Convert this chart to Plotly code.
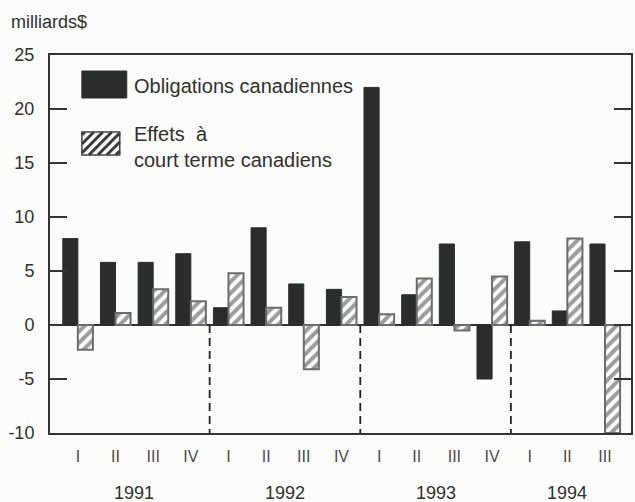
import plotly.graph_objects as go

# Quarterly net purchases by non-residents, billions of dollars
quarters = ["I", "II", "III", "IV", "I", "II", "III", "IV",
            "I", "II", "III", "IV", "I", "II", "III"]
years = ["1991", "1992", "1993", "1994"]
quarters_per_year = [4, 4, 4, 3]
obligations = [8.0, 5.8, 5.8, 6.6, 1.6, 9.0, 3.8, 3.3,
               22.0, 2.8, 7.5, -5.0, 7.7, 1.3, 7.5]
effets = [-2.3, 1.1, 3.3, 2.2, 4.8, 1.6, -4.1, 2.6,
          1.0, 4.3, -0.5, 4.5, 0.4, 8.0, -10.0]
y_ticks = [-10, -5, 0, 5, 10, 15, 20, 25]
y_ticktext = ["-10", "-5", "0", "5", "10", "15", "20", "25"]

FONT = "Liberation Sans, Arial, sans-serif"
INK = "#2f312f"
DARK = "#2a2d2a"
BG = "#fcfcfa"

W, H = 635, 502
ML, MR, MT, MB = 50, 2, 55, 69
PW, PH = W - ML - MR, H - MT - MB

x = list(range(len(quarters)))

fig = go.Figure()
fig.add_trace(go.Bar(
    x=x, y=obligations, name="Obligations canadiennes",
    marker=dict(color=DARK, line=dict(color=DARK, width=1)),
    showlegend=False,
))
fig.add_trace(go.Bar(
    x=x, y=effets, name="Effets à court terme canadiens",
    marker=dict(color="white",
                line=dict(color="#6c6c6c", width=2),
                pattern=dict(shape="/", fgcolor="#3a3a3a", bgcolor="white",
                             size=8, solidity=0.5)),
    showlegend=False,
))


def px_to_paper(px, py):
    return (px - ML) / PW, (H - MB - py) / PH


shapes = []

# dashed separators between years, from the zero line to the bottom
bounds = []
acc = 0
for n in quarters_per_year[:-1]:
    acc += n
    bounds.append(acc - 0.5)
for b in bounds:
    shapes.append(dict(type="line", xref="x", yref="y", x0=b, x1=b,
                       y0=0, y1=y_ticks[0],
                       line=dict(color="#222", width=1.8, dash="8px,5px")))

# legend swatches
def rect(px0, py0, px1, py1, **kw):
    fx0, fy0 = px_to_paper(px0, py1)
    fx1, fy1 = px_to_paper(px1, py0)
    return dict(type="rect", xref="paper", yref="paper",
                x0=fx0, x1=fx1, y0=fy0, y1=fy1, **kw)


shapes.append(rect(82, 71, 127, 98, fillcolor=DARK,
                   line=dict(color=DARK, width=1)))

hx0, hy0, hx1, hy1 = 82, 132, 120, 155
step = 9
k = hx0 - (hy1 - hy0) + 3
while k < hx1:
    # "/" stroke: from (k, hy1) to (k + h, hy0), clipped to the box
    h = hy1 - hy0
    ax, ay = k, hy1
    bx, by = k + h, hy0
    if ax < hx0:
        ay = hy1 - (hx0 - ax)
        ax = hx0
    if bx > hx1:
        by = hy0 + (bx - hx1)
        bx = hx1
    if bx > ax:
        f0 = px_to_paper(ax, ay)
        f1 = px_to_paper(bx, by)
        shapes.append(dict(type="line", xref="paper", yref="paper",
                           x0=f0[0], y0=f0[1], x1=f1[0], y1=f1[1],
                           line=dict(color="#3a3a3a", width=3)))
    k += step
shapes.append(rect(hx0, hy0, hx1, hy1, fillcolor="rgba(0,0,0,0)",
                   line=dict(color="#444", width=1.5)))

annotations = []
fx, fy = px_to_paper(9, 22)
annotations.append(dict(text="milliards$", xref="paper", yref="paper",
                        x=fx, y=fy, xanchor="left", yanchor="middle",
                        showarrow=False, font=dict(size=18, color=INK)))
fx, fy = px_to_paper(132, 86)
annotations.append(dict(text="Obligations canadiennes", xref="paper",
                        yref="paper", x=fx, y=fy, xanchor="left",
                        yanchor="middle", showarrow=False,
                        font=dict(size=20, color=INK)))
fx, fy = px_to_paper(132, 147)
annotations.append(dict(text="Effets  à<br>court terme canadiens",
                        xref="paper", yref="paper", x=fx, y=fy,
                        xanchor="left", yanchor="middle", align="left",
                        showarrow=False, font=dict(size=20, color=INK)))

# year labels centred under their quarters
start = 0
_, fy_year = px_to_paper(0, 493)
for yr, n in zip(years, quarters_per_year):
    centre = start + (n - 1) / 2
    annotations.append(dict(text=yr, xref="x", yref="paper", x=centre,
                            y=fy_year, yanchor="middle", showarrow=False,
                            font=dict(size=18, color=INK)))
    start += n

fig.update_layout(
    width=W, height=H,
    margin=dict(l=ML, r=MR, t=MT, b=MB),
    paper_bgcolor=BG, plot_bgcolor=BG,
    barmode="group", bargap=0.2, bargroupgap=0,
    font=dict(family=FONT, color=INK),
    shapes=shapes, annotations=annotations,
    xaxis=dict(range=[-0.74, len(quarters) - 0.31],
               tickmode="array", tickvals=x, ticktext=quarters,
               ticks="", ticklabelstandoff=8,
               tickfont=dict(size=16, color="#4a4a4a"),
               showgrid=False, zeroline=False,
               showline=True, linecolor="#333", linewidth=2, mirror=True),
    yaxis=dict(range=[y_ticks[0], y_ticks[-1]], tickmode="array",
               tickvals=y_ticks, ticktext=y_ticktext,
               ticks="inside", ticklen=17,
               tickwidth=2, tickcolor="#333", ticklabelstandoff=10,
               tickfont=dict(size=18, color=INK),
               showgrid=False, zeroline=True, zerolinecolor="#333",
               zerolinewidth=2, showline=True, linecolor="#333",
               linewidth=2, mirror="ticks"),
)

fig.write_html("out.html")
